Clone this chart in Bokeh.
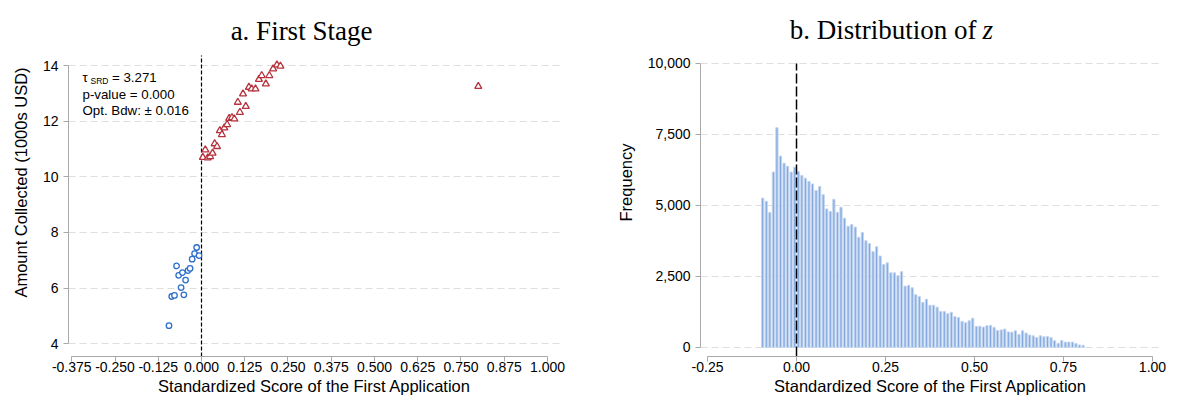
from bokeh.plotting import figure
from bokeh.layouts import row
from bokeh.models import Range1d, FixedTicker, NumeralTickFormatter, Label
from bokeh.embed import file_html
from bokeh.resources import INLINE

# ---------------- data ----------------
# Panel a: binned means (score, amount collected in 1000s USD)
left_score = [-0.094, -0.086, -0.078, -0.072, -0.066, -0.059, -0.055, -0.051,
              -0.046, -0.039, -0.033, -0.027, -0.020, -0.014, -0.007]
left_amount = [4.65, 5.70, 5.74, 6.80, 6.46, 6.02, 6.56, 5.76,
               6.29, 6.63, 6.71, 7.04, 7.24, 7.46, 7.17]
right_score = [0.004, 0.011, 0.018, 0.025, 0.032, 0.038, 0.045, 0.053, 0.059,
               0.066, 0.074, 0.080, 0.088, 0.095, 0.105, 0.111, 0.120, 0.128,
               0.137, 0.145, 0.156, 0.166, 0.174, 0.186, 0.196, 0.207, 0.218,
               0.228, 0.800]
right_amount = [10.70, 10.97, 10.68, 10.73, 10.85, 11.19, 11.09, 11.66, 11.52,
                11.76, 11.88, 12.10, 12.13, 12.08, 12.68, 12.32, 12.98, 12.53,
                13.22, 13.16, 13.16, 13.50, 13.64, 13.34, 13.64, 13.88, 14.02,
                13.98, 13.25]
tau_text = "= 3.271"
pval_text = "p-value = 0.000"
bdw_text = "Opt. Bdw: \u00b1 0.016"

a_xticks = [-0.375, -0.25, -0.125, 0.0, 0.125, 0.25, 0.375, 0.5, 0.625, 0.75, 0.875, 1.0]
a_yticks = [4, 6, 8, 10, 12, 14]

# Panel b: histogram of z (bins of width 0.01 starting at -0.10)
bin_start = -0.10
bin_width = 0.01
freq = [5260, 5150, 4750, 6180, 7740, 6740, 6490, 6380, 6180, 6350,
        6200, 6060, 5960, 5850, 5760, 5530, 5670, 5380, 4880, 4790,
        5220, 4760, 4940, 4550, 4270, 4330, 4240, 3880, 4050, 3760,
        3660, 3380, 3550, 3220, 2920, 2980, 2630, 2630, 2530, 2670,
        2160, 2190, 2100, 1860, 1800, 1590, 1700, 1490, 1490, 1420,
        1270, 1270, 1190, 1240, 1090, 1060, 920, 870, 940, 1030,
        740, 750, 720, 770, 780, 710, 600, 620, 650, 550,
        540, 590, 460, 590, 510, 440, 410, 350, 410, 380,
        390, 350, 240, 150, 250, 190, 190, 190, 140, 90, 80]
b_xticks = [-0.25, 0.0, 0.25, 0.5, 0.75, 1.0]
b_yticks = [0, 2500, 5000, 7500, 10000]

x_title = "Standardized Score of the First Application"

# ---------------- styles ----------------
SANS = "'Liberation Sans', Arial, sans-serif"
SERIF = "'Liberation Serif', 'DejaVu Serif', serif"
AXIS_GREY = "#a8a8a8"
GRID_GREY = "#dedede"


def style(p, ylab_standoff):
    p.outline_line_color = None
    p.xgrid.visible = False
    p.ygrid.grid_line_color = GRID_GREY
    p.ygrid.grid_line_dash = "7 4"
    p.ygrid.grid_line_width = 1
    for ax in (p.xaxis[0], p.yaxis[0]):
        ax.axis_line_color = AXIS_GREY
        ax.major_tick_line_color = AXIS_GREY
        ax.minor_tick_line_color = None
        ax.major_tick_in = 0
        ax.major_tick_out = 5
        ax.major_label_text_font = SANS
        ax.major_label_text_font_size = "14px"
        ax.major_label_text_color = "black"
        ax.axis_label_text_font = SANS
        ax.axis_label_text_font_size = "16.5px"
        ax.axis_label_text_font_style = "normal"
        ax.axis_label_text_color = "black"
    p.xaxis[0].major_label_standoff = 0
    p.xaxis[0].axis_label_standoff = 2
    p.yaxis[0].major_label_standoff = 5
    p.yaxis[0].axis_label_standoff = ylab_standoff
    p.yaxis[0].major_label_orientation = "horizontal"


def ann(p, x, y, text, size="13.3px", font=SANS, align="left", style_="normal"):
    p.add_layout(Label(x=x, y=y, text=text, text_align=align,
                       text_baseline="alphabetic", text_font=font,
                       text_font_size=size, text_font_style=style_,
                       text_color="black"))


# ---------------- panel a ----------------
A_Y0, A_PX = 3.544, 27.83          # value at frame bottom, px per unit
A_Y1 = A_Y0 + 348 / A_PX
p1 = figure(width=600, height=398, x_range=Range1d(-0.3844, 1.0376),
            y_range=Range1d(A_Y0, A_Y1), output_backend="svg",
            toolbar_location=None, min_border_left=68, min_border_right=40,
            min_border_top=8, min_border_bottom=42)
style(p1, 10)
p1.xaxis.ticker = FixedTicker(ticks=a_xticks)
p1.xaxis.formatter = NumeralTickFormatter(format="0.000")
p1.xaxis.bounds = (a_xticks[0], a_xticks[-1])
p1.yaxis.ticker = FixedTicker(ticks=a_yticks)
p1.yaxis.bounds = (a_yticks[0], a_yticks[-1])
p1.xaxis.axis_label = x_title
p1.yaxis.axis_label = "Amount Collected (1000s USD)"


def lx(px):
    return (px - 201) / 346


def ly(py):
    return 4 + (343.3 - py) / A_PX


p1.segment(x0=[0], y0=[A_Y0], x1=[0], y1=[ly(55)], line_color="black",
           line_dash="4 2", line_width=1.2)
p1.scatter(left_score, left_amount, marker="circle", size=5.5,
           line_color="#2f6fca", fill_color="white", line_width=1.3)
p1.scatter(right_score, right_amount, marker="triangle", size=7,
           line_color="#b5323c", fill_color="white", line_width=1.3)

ann(p1, lx(82), ly(77), "\u03c4")
ann(p1, lx(90), ly(80), "SRD", size="8.5px")
ann(p1, lx(111.5), ly(77), tau_text)
ann(p1, lx(82), ly(93.5), pval_text)
ann(p1, lx(82), ly(110), bdw_text)
ann(p1, lx(301), ly(30), "a. First Stage", size="27px", font=SERIF, align="center")

# ---------------- panel b ----------------
B_Y0, B_PX = -317, 284 / 10000      # value at frame bottom, px per unit
B_Y1 = B_Y0 + 348 / B_PX
p2 = figure(width=569, height=398, x_range=Range1d(-0.2697, 1.0225),
            y_range=Range1d(B_Y0, B_Y1), output_backend="svg",
            toolbar_location=None, min_border_left=100, min_border_right=9,
            min_border_top=8, min_border_bottom=42)
style(p2, 10)
p2.xaxis.ticker = FixedTicker(ticks=b_xticks)
p2.xaxis.formatter = NumeralTickFormatter(format="0.00")
p2.xaxis.bounds = (b_xticks[0], b_xticks[-1])
p2.yaxis.ticker = FixedTicker(ticks=b_yticks)
p2.yaxis.formatter = NumeralTickFormatter(format="0,0")
p2.yaxis.bounds = (b_yticks[0], b_yticks[-1])
p2.xaxis.axis_label = x_title
p2.yaxis.axis_label = "Frequency"


def rx(px):
    return (px - 796) / 356


def ry(py):
    return (347 - py) / B_PX


centers = [bin_start + bin_width * (i + 0.5) for i in range(len(freq))]
p2.vbar(x=centers, top=freq, bottom=0, width=bin_width * 0.62,
        fill_color="#82a9df", line_color="#c4d6f0", line_width=1)
p2.segment(x0=[0], y0=[B_Y0], x1=[0], y1=[b_yticks[-1]], line_color="black",
           line_dash="10 3", line_width=1.5)

ann(p2, rx(976), ry(30), "b. Distribution of", size="27px", font=SERIF, align="right")
ann(p2, rx(982), ry(30), "z", size="27px", font=SERIF, style_="italic")

layout = row(p1, p2)
open("out.html", "w").write(file_html(layout, INLINE))
